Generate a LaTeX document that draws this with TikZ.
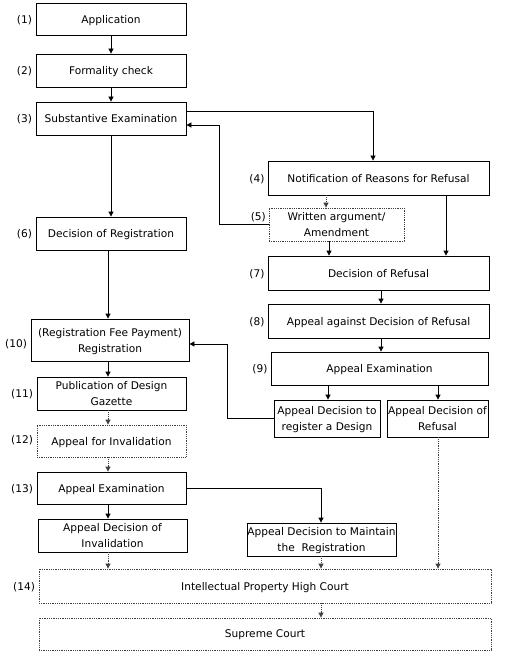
\documentclass[tikz,border=0pt]{standalone}
\usepackage{fontspec}
\setmainfont{DejaVu Sans}
\usetikzlibrary{arrows.meta}
\begin{document}
\begin{tikzpicture}[x=1pt,y=-1pt,
  every node/.style={font=\fontsize{10.6}{16}\selectfont, inner sep=0pt},
  box/.style={draw, line width=0.8pt, align=center, text depth=0pt},
  dbox/.style={box, dash pattern=on 0.9pt off 0.9pt, draw=black!75},
  lbl/.style={anchor=east, text depth=0pt},
  arr/.style={line width=0.8pt, -{Triangle[length=5pt,width=5pt]}},
  darr/.style={arr, dash pattern=on 0.9pt off 0.9pt, draw=black!75},
  line/.style={line width=0.8pt}]
\useasboundingbox (0,0) rectangle (510,660);

% boxes
\node[box, minimum width=150pt, minimum height=32pt] (n1) at (111,19) {Application};
\node[box, minimum width=150pt, minimum height=33pt] (n2) at (111,70.5) {Formality check};
\node[box, minimum width=150pt, minimum height=33pt] (n3) at (111,118.5) {Substantive Examination};
\node[box, minimum width=221pt, minimum height=34pt] (n4) at (378.5,178) {Notification of Reasons for Refusal};
\node[dbox, minimum width=135pt, minimum height=33pt] (n5) at (336.5,224.5) {Written argument/\\Amendment};
\node[box, minimum width=150pt, minimum height=33pt] (n6) at (111,233.5) {Decision of Registration};
\node[box, minimum width=221pt, minimum height=34pt] (n7) at (378.5,273) {Decision of Refusal};
\node[box, minimum width=221pt, minimum height=34pt] (n8) at (378.5,321) {Appeal against Decision of Refusal};
\node[box, minimum width=217pt, minimum height=33pt] (n9) at (379.5,368.5) {Appeal Examination};
\node[box, minimum width=158pt, minimum height=42pt] (n10) at (110,340) {(Registration Fee Payment)\\Registration};
\node[box, minimum width=149pt, minimum height=33pt] (n11) at (111.5,393.5) {Publication of Design\\Gazette};
\node[dbox, minimum width=149pt, minimum height=32pt] (n12) at (111.5,441) {Appeal for Invalidation};
\node[box, minimum width=149pt, minimum height=32pt] (n13) at (111.5,488) {Appeal Examination};
\node[box, minimum width=106pt, minimum height=37pt] (reg) at (327,418.5) {Appeal Decision to\\register a Design};
\node[box, minimum width=101pt, minimum height=37pt] (ref) at (437.5,418.5) {Appeal Decision of\\Refusal};
\node[box, minimum width=149pt, minimum height=33pt] (inv) at (112.5,535.5) {Appeal Decision of\\Invalidation};
\node[box, minimum width=149pt, minimum height=33pt] (maint) at (321.5,539.5) {Appeal Decision to Maintain\\the\ \ Registration};
\node[dbox, minimum width=452pt, minimum height=34pt] (ip) at (265,586) {Intellectual Property High Court};
\node[dbox, minimum width=452pt, minimum height=32pt] (sc) at (265,634) {Supreme Court};

% labels
\node[lbl] (l1) at ([xshift=-3.5pt]n1.west) {(1)};
\node[lbl] (l2) at ([xshift=-3.5pt]n2.west) {(2)};
\node[lbl] (l3) at ([xshift=-3.5pt]n3.west) {(3)};
\node[lbl] (l4) at ([xshift=-3pt]n4.west) {(4)};
\node[lbl] (l5) at (266,216) {(5)};
\node[lbl] (l6) at ([xshift=-3.5pt]n6.west) {(6)};
\node[lbl] (l7) at ([xshift=-3pt]n7.west) {(7)};
\node[lbl] (l8) at ([xshift=-3pt]n8.west) {(8)};
\node[lbl] (l9) at ([xshift=-3pt]n9.west) {(9)};
\node[lbl] (l10) at ([xshift=-3.5pt,yshift=-3pt]n10.west) {(10)};
\node[lbl] (l11) at ([xshift=-3.5pt]n11.west) {(11)};
\node[lbl] (l12) at ([xshift=-3.5pt,yshift=2pt]n12.west) {(12)};
\node[lbl] (l13) at ([xshift=-3.5pt]n13.west) {(13)};
\node[lbl] (l14) at ([xshift=-3.5pt]ip.west) {(14)};

% x guide coordinates
\coordinate (x108) at (108,0);
\coordinate (x219) at (219,0);
\coordinate (x227) at (227,0);
\coordinate (x321) at (321,0);
\coordinate (x326) at (326,0);
\coordinate (x328) at (328,0);
\coordinate (x329) at (329,0);
\coordinate (x373) at (373,0);
\coordinate (x381) at (381,0);
\coordinate (x438) at (438,0);
\coordinate (x446) at (446,0);
\coordinate (y125) at (0,125);
\coordinate (y344) at (0,344);

% connectors
\draw[arr] (n1.south) -- (n2.north);
\draw[arr] (n2.south) -- (n3.north);
\draw[arr] ([yshift=7.5pt]n3.east) -| (n4.north -| x373);
\draw[darr] (n4.south -| x326) -- (n5.north -| x326);
\draw[arr] (n5.south -| x329) -- (n7.north -| x329);
\draw[arr] (n4.south -| x446) -- (n7.north -| x446);
\draw[arr] (n5.west) -| (x219 |- y125) -- (n3.east |- y125);
\draw[arr] (n3.south) -- (n6.north);
\draw[arr] (n6.south -| x108) -- (n10.north -| x108);
\draw[arr] (n7.south -| x381) -- (n8.north -| x381);
\draw[arr] (n8.south -| x381) -- (n9.north -| x381);
\draw[arr] (n9.south -| x328) -- (reg.north -| x328);
\draw[arr] (n9.south -| x438) -- (ref.north -| x438);
\draw[arr] (reg.west) -| (x227 |- y344) -- (n10.east |- y344);
\draw[arr] (n10.south -| x108) -- (n11.north -| x108);
\draw[darr] (n11.south -| x108) -- (n12.north -| x108);
\draw[darr] (n12.south -| x108) -- (n13.north -| x108);
\draw[arr] (n13.south -| x108) -- (inv.north -| x108);
\draw[arr] (n13.east) -| (maint.north -| x321);
\draw[darr] (inv.south -| x108) -- (ip.north -| x108);
\draw[darr] (maint.south -| x321) -- (ip.north -| x321);
\draw[darr] (ref.south -| x438) -- (ip.north -| x438);
\draw[darr] (ip.south -| x321) -- (sc.north -| x321);
\end{tikzpicture}
\end{document}
